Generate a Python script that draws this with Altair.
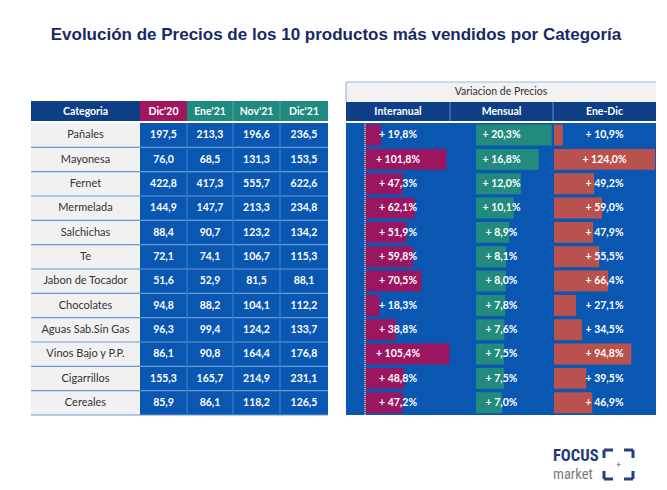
import altair as alt
import pandas as pd

# ---------------- data ----------------
categorias = ["Pañales", "Mayonesa", "Fernet", "Mermelada", "Salchichas", "Te",
              "Jabon de Tocador", "Chocolates", "Aguas Sab.Sin Gas",
              "Vinos Bajo y P.P.", "Cigarrillos", "Cereales"]
meses = ["Dic'20", "Ene'21", "Nov'21", "Dic'21"]
dic20 = [197.5, 76.0, 422.8, 144.9, 88.4, 72.1, 51.6, 94.8, 96.3, 86.1, 155.3, 85.9]
ene21 = [213.3, 68.5, 417.3, 147.7, 90.7, 74.1, 52.9, 88.2, 99.4, 90.8, 165.7, 86.1]
nov21 = [196.6, 131.3, 555.7, 213.3, 123.2, 106.7, 81.5, 104.1, 124.2, 164.4, 214.9, 118.2]
dic21 = [236.5, 153.5, 622.6, 234.8, 134.2, 115.3, 88.1, 112.2, 133.7, 176.8, 231.1, 126.5]
variaciones = ["Interanual", "Mensual", "Ene-Dic"]
interanual = [19.8, 101.8, 47.3, 62.1, 51.9, 59.8, 70.5, 18.3, 38.8, 105.4, 48.8, 47.2]
mensual = [20.3, 16.8, 12.0, 10.1, 8.9, 8.1, 8.0, 7.8, 7.6, 7.5, 7.5, 7.0]
enedic = [10.9, 124.0, 49.2, 59.0, 47.9, 55.5, 66.4, 27.1, 34.5, 94.8, 39.5, 46.9]
titulo = "Evolución de Precios de los 10 productos más vendidos por Categoría"

# ---------------- layout (page pixel units) ----------------
W, H, M = 667, 490, 8
TOP0, BOT = 123, 415
N = len(categorias)
P = (BOT - TOP0) / N
LCOL = [31, 140, 187, 233, 280, 328]          # left table column edges
RX0, RX1 = 346, 656                           # right panel
RCOL = [346, 450, 553, 656]
NAVY = "#0E3F85"
BLUE = "#0A57B1"
MAG = "#A0175F"
TEAL = "#1F8A7E"
RED = "#B9524F"
GRAY = "#F1F1F1"
FONT = "Lato"
NARROW = "Liberation Sans Narrow, Roboto Condensed, Liberation Sans"


def fmt(v):
    return f"{v:.1f}".replace(".", ",")


def pct(v):
    return "+ " + fmt(v) + "%"


def XS():
    return alt.Scale(domain=[M, W - M], range=[0, W - 2 * M], nice=False, zero=False)


def YS():
    return alt.Scale(domain=[M, H - M], range=[0, H - 2 * M], nice=False, zero=False)


def rects(rows):
    df = pd.DataFrame(rows, columns=["x0", "x1", "y0", "y1", "fill"])
    return alt.Chart(df).mark_rect().encode(
        x=alt.X("x0:Q", scale=XS(), axis=None), x2="x1:Q",
        y=alt.Y("y0:Q", scale=YS(), axis=None), y2="y1:Q",
        color=alt.Color("fill:N", scale=None))


def rules(rows, width=1, dash=None):
    df = pd.DataFrame(rows, columns=["x0", "x1", "y0", "y1", "c"])
    kw = dict(strokeWidth=width)
    if dash:
        kw["strokeDash"] = dash
    return alt.Chart(df).mark_rule(**kw).encode(
        x=alt.X("x0:Q", scale=XS(), axis=None), x2="x1:Q",
        y=alt.Y("y0:Q", scale=YS(), axis=None), y2="y1:Q",
        color=alt.Color("c:N", scale=None))


def texts(rows, size, weight="normal", font=FONT, align="center", baseline="middle"):
    df = pd.DataFrame(rows, columns=["x", "y", "t", "c"])
    return alt.Chart(df).mark_text(fontSize=size, fontWeight=weight, font=font,
                                   align=align, baseline=baseline).encode(
        x=alt.X("x:Q", scale=XS(), axis=None),
        y=alt.Y("y:Q", scale=YS(), axis=None),
        text="t:N",
        color=alt.Color("c:N", scale=None))


def row_top(i):
    return TOP0 + i * P


def row_mid(i):
    return TOP0 + (i + 0.5) * P


layers = []

# ---- title ----
layers.append(texts([[336, 35, titulo, "#172A66"]], 17, "bold", "Liberation Sans"))

# ---- backgrounds ----
bg = [[LCOL[0], LCOL[1], 101, 121, NAVY],
      [LCOL[1], LCOL[2], 101, 121, MAG],
      [LCOL[2], LCOL[5], 101, 121, TEAL],
      [LCOL[0], LCOL[1], TOP0, BOT, GRAY],
      [LCOL[1], LCOL[5], TOP0, BOT, BLUE],
      [RX0, RX1, 82, 102, "#F2F2F2"],
      [RX0, RX1, 102, 121, NAVY],
      [RX0, RX1, TOP0, BOT, BLUE]]
layers.append(rects(bg))

# separators
sep = []
for i in range(1, N + 1):
    sep.append([LCOL[0], LCOL[5], row_top(i), row_top(i), "#6A98D6"])
for x in LCOL[2:5]:
    sep.append([x, x, TOP0, BOT, "#3C78C8"])
for x in LCOL[3:5]:
    sep.append([x, x, 101, 121, "#4FA49A"])
for x in RCOL[1:3]:
    sep.append([x, x, 102, 121, "#4E80C4"])
sep.append([RX0, RX1, 82, 82, "#9DB9DE"])
sep.append([RX0, RX0, 82, 102, "#9DB9DE"])
layers.append(rules(sep, 1.2))


# ---- bars ----
def bars(vals, color, dom, r0, r1):
    df = pd.DataFrame({"v": vals,
                       "z": [0] * len(vals),
                       "y0": [row_top(i) + 1.6 for i in range(len(vals))],
                       "y1": [row_top(i) + P - 1.8 for i in range(len(vals))]})
    return alt.Chart(df).mark_rect(color=color).encode(
        x=alt.X("v:Q", scale=alt.Scale(domain=dom, range=[r0 - M, r1 - M], nice=False, zero=False), axis=None),
        x2="z:Q",
        y=alt.Y("y0:Q", scale=YS(), axis=None), y2="y1:Q")


layers.append(bars(interanual, "#9B1660", [0, 100], 365, 445))
layers.append(bars(mensual, "#238B7D", [0, 20], 476, 550.6))
layers.append(bars(enedic, RED, [0, 100], 554, 635.5))

# dotted baseline
layers.append(rules([[365, 365, TOP0, BOT, "#FFFFFF"]], 1))
layers.append(rules([[365, 365, TOP0, BOT, "#111111"]], 1, [1, 1]))

# ---- texts ----
hdr = [[(LCOL[0] + LCOL[1]) / 2, 111.5, "Categoria", "#FFFFFF"]]
for k, m in enumerate(meses):
    hdr.append([(LCOL[k + 1] + LCOL[k + 2]) / 2, 111.5, m, "#FFFFFF"])
for k, v in enumerate(variaciones):
    hdr.append([(RCOL[k] + RCOL[k + 1]) / 2, 112, v, "#FFFFFF"])
layers.append(texts(hdr, 10.5, "bold"))
layers.append(texts([[(RX0 + RX1) / 2, 92, "Variacion de Precios", "#333333"]], 10.5))

cat_rows = [[(LCOL[0] + LCOL[1]) / 2, row_mid(i), c, "#333333"] for i, c in enumerate(categorias)]
layers.append(texts(cat_rows, 11))

val_rows = []
for k, serie in enumerate([dic20, ene21, nov21, dic21]):
    for i, v in enumerate(serie):
        val_rows.append([(LCOL[k + 1] + LCOL[k + 2]) / 2, row_mid(i), fmt(v), "#FFFFFF"])
for k, serie in enumerate([interanual, mensual, enedic]):
    for i, v in enumerate(serie):
        val_rows.append([(RCOL[k] + RCOL[k + 1]) / 2, row_mid(i), pct(v), "#FFFFFF"])
layers.append(texts(val_rows, 10.5, "bold"))

# ---- logo ----
layers.append(texts([[553, 461, "FOCUS", "#1F3A7A"]], 16.5, "bold", NARROW, "left", "alphabetic"))
layers.append(texts([[553, 479, "market", "#7A7A7A"]], 14.5, "normal", NARROW, "left", "alphabetic"))
logo = [[604, 613, 450, 450, "#23407F"], [604, 604, 450, 458, "#23407F"],
        [624, 633, 450, 450, "#23407F"], [633, 633, 450, 458, "#23407F"],
        [604, 604, 471, 479, "#23407F"], [604, 613, 479, 479, "#23407F"],
        [633, 633, 471, 479, "#23407F"], [624, 633, 479, 479, "#23407F"]]
layers.append(rules(logo, 3))
layers.append(texts([[618.5, 465, "+", "#555555"]], 9))

chart = alt.layer(*layers).resolve_scale(x="independent").properties(
    width=W - 2 * M, height=H - 2 * M,
    autosize=alt.AutoSizeParams(type="none"), padding=0
).configure_view(strokeWidth=0)

chart.save("out.html", embed_options={"renderer": "svg", "actions": False})
